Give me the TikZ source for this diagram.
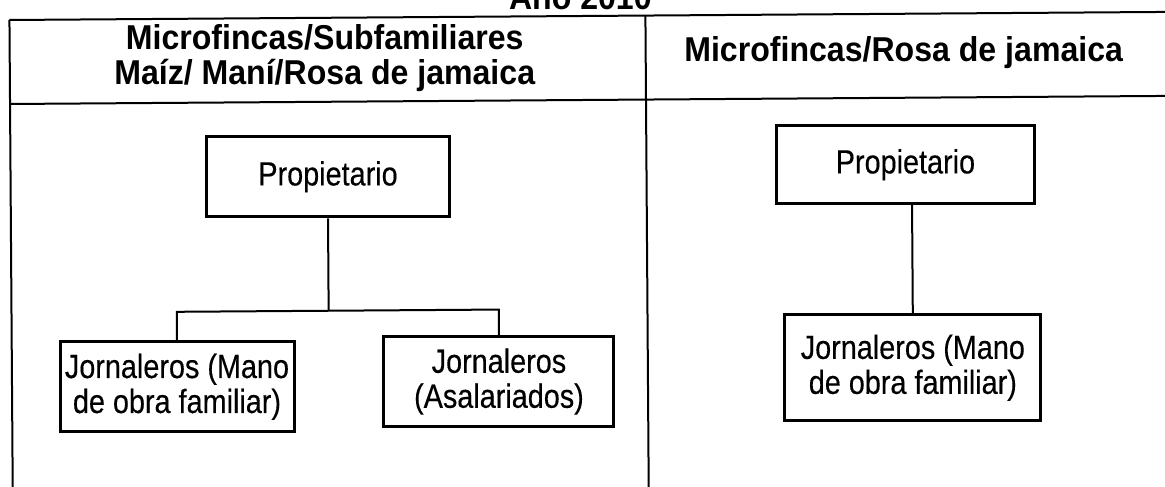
\documentclass[tikz,border=0pt]{standalone}
\usepackage{fontspec}
\setmainfont{Liberation Sans}
\newfontfamily\bodyfont[FakeStretch=0.86,FakeBold=0.3]{Liberation Sans}
\newfontfamily\headfont[FakeStretch=0.93]{Liberation Sans Bold}
\begin{document}
\begin{tikzpicture}[x=1pt,y=-1pt,
  rule/.style={line width=2pt,black},
  box/.style={draw,line width=3pt,inner sep=0pt,align=center,
    font=\fontsize{33.5}{35}\selectfont\bodyfont},
  hdr/.style={inner sep=0pt,align=center,
    font=\fontsize{34.5}{35}\selectfont\headfont},
  conn/.style={line width=2pt}]
\useasboundingbox (0,0) rectangle (1165,487);
\clip (0,0) rectangle (1165,487);
\fill[white] (0,0) rectangle (1165,487);
\begin{scope}[rotate around={0.4:(582,243)}]
  % title (cut at top)
  \node[hdr,anchor=base] (title) at (582,9) {Año 2010};
  % table rules
  \draw[rule] (11,16) -- (1180,16);
  \draw[rule] (11,100) -- (1180,100);
  \draw[rule] (11,16) -- (11,500);
  \draw[rule] (647,16) -- (647,500);
  % headers
  \node[hdr] (h1) at (326,56) {Microfincas/Subfamiliares\\Maíz/ Maní/Rosa de jamaica};
  \node[hdr] (h2) at (905,55) {Microfincas/Rosa de jamaica};
  % left chart
  \node[box,minimum width=243pt,minimum height=80pt] (pl) at (328.5,175) {Propietario};
  \node[box,minimum width=234pt,minimum height=90pt] (j1) at (176,384) {Jornaleros (Mano\\de obra familiar)};
  \node[box,minimum width=230pt,minimum height=90pt] (j2) at (498,381) {Jornaleros\\(Asalariados)};
  \coordinate (jn) at (pl.south |- 0,309);
  \draw[conn] (pl.south) -- (jn);
  \draw[conn] (j1.north) |- (jn) -| (j2.north);
  % right chart
  \node[box,minimum width=258pt,minimum height=78pt] (pr) at (906,167) {Propietario};
  \node[box,minimum width=256pt,minimum height=106pt] (rj) at (912,370) {Jornaleros (Mano\\de obra familiar)};
  \draw[conn] (rj.north) -- (rj.north |- pr.south);
\end{scope}
\end{tikzpicture}
\end{document}
